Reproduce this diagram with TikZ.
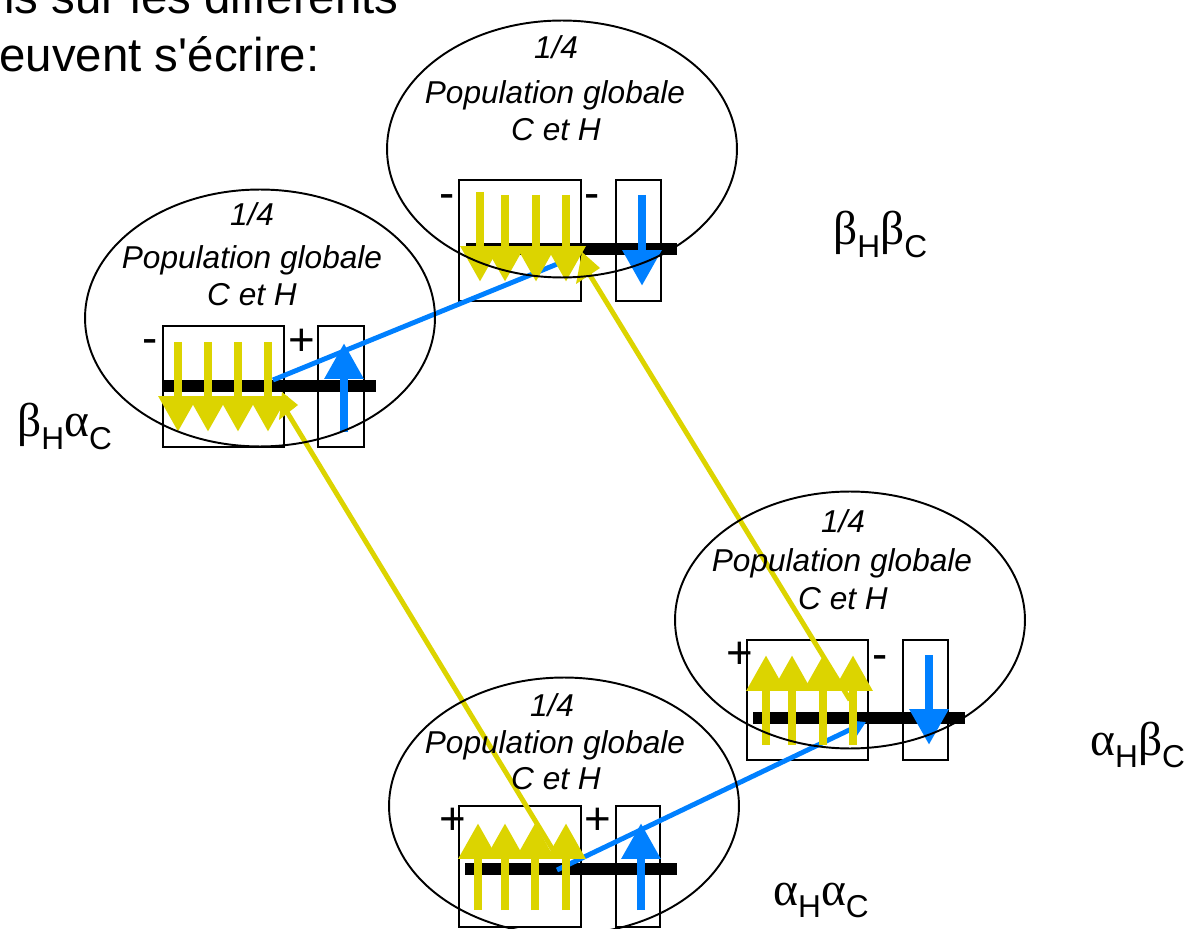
\documentclass[tikz,border=0pt]{standalone}
\usepackage{fontspec}
\setmainfont{Liberation Sans}
\newfontfamily\grk{Liberation Serif}
\newfontfamily\rawsans{Liberation Sans}[Ligatures=TeXOff]
\usetikzlibrary{shapes.geometric,arrows.meta}
\definecolor{ycol}{RGB}{220,212,0}
\definecolor{bcol}{RGB}{0,128,255}
\newcommand\glab[4]{{\grk\fontsize{27}{30}\selectfont #1}\raisebox{-7pt}{\fontsize{18}{20}\selectfont #2}{\grk\fontsize{27}{30}\selectfont #3}\raisebox{-7pt}{\fontsize{18}{20}\selectfont #4}}
\tikzset{
  ell/.style={draw=black, line width=1.1pt, ellipse, minimum width=7cm, minimum height=5.14cm, inner sep=0pt},
  bx/.style={draw=black, line width=1.1pt},
  barline/.style={draw=black, line width=6.8pt},
  yarr/.style={draw=ycol, line width=5.1pt, -{Triangle[width=21pt,length=20.4pt]}},
  barr/.style={draw=bcol, line width=5.1pt, -{Triangle[width=21pt,length=20.4pt]}},
  yconn/.style={draw=ycol, line width=2.8pt},
  bconn/.style={draw=bcol, line width=2.8pt},
  ptxt/.style={font=\fontsize{18}{21}\selectfont\itshape, anchor=base, inner sep=0pt},
  sgn/.style={font=\fontsize{26}{30}\selectfont, anchor=base, inner sep=0pt},
  glb/.style={anchor=base west, inner sep=0pt},
  toptxt/.style={font=\rawsans\fontsize{27}{32}\selectfont, inner sep=0pt}
}
\begin{document}
\begin{tikzpicture}[x=0.02cm,y=-0.02cm]
\useasboundingbox (0,0) rectangle (1198,929);

% bars
\draw[barline] (466,249) -- (677,249);
\draw[barline] (163,386) -- (376,386);
\draw[barline] (753,718) -- (965,718);
\draw[barline] (465,869) -- (677,869);

% boxes
\draw[bx] (459,180) rectangle (581,301);
\draw[bx] (616,180) rectangle (661,301);
\draw[bx] (163,326) rectangle (284,447);
\draw[bx] (318,326) rectangle (364,447);
\draw[bx] (747,640) rectangle (868,760);
\draw[bx] (903,640) rectangle (948,760);
\draw[bx] (459,806) rectangle (581,927);
\draw[bx] (616,806) rectangle (660,927);

% connector end points
\coordinate (bl1) at (273,380);
\coordinate (bt1) at (572,258);
\coordinate (bb1) at (557,870);
\coordinate (br1) at (866,722);
\coordinate (yt1) at (588,272);
\coordinate (yr1) at (850,700);
\coordinate (yl1) at (287,412);
\coordinate (yb1) at (553,850);

% blue connectors
\draw[bconn] (bl1) -- (bt1);
\draw[bconn, -{Triangle[width=9pt,length=8pt]}] (bb1) -- (br1);

% top arrows (down)
\draw[yarr] (480,192) -- (480,282);
\draw[yarr] (505,195) -- (505,282);
\draw[yarr] (536,195) -- (536,282);
\draw[yarr] (566,195) -- (566,282);
\draw[barr] (642,195) -- (642,286);
% left arrows
\draw[yarr] (178,342) -- (178,432);
\draw[yarr] (208,342) -- (208,432);
\draw[yarr] (238,342) -- (238,432);
\draw[yarr] (268,342) -- (268,432);
\draw[barr] (344,432) -- (344,343);
% right arrows
\draw[yarr] (766,745) -- (766,655);
\draw[yarr] (792,745) -- (792,655);
\draw[yarr] (823,745) -- (823,655);
\draw[yarr] (853,745) -- (853,655);
\draw[barr] (929,655) -- (929,745);
% bottom arrows
\draw[yarr] (478,910) -- (478,823);
\draw[yarr] (505,910) -- (505,823);
\draw[yarr] (535,910) -- (535,823);
\draw[yarr] (566,910) -- (566,823);
\draw[barr] (641,910) -- (641,823);

% yellow connectors
\draw[yconn] (yt1) -- (yr1);
\fill[ycol] (582,252) -- (600,268) -- (576,284) -- cycle;
\draw[yconn] (yl1) -- (yb1);
\fill[ycol] (282,392) -- (298,405) -- (279,420) -- cycle;

% ellipses
\node[ell] (e1) at (562,149) {};
\node[ell] (e2) at (260,318) {};
\node[ell] (e3) at (850,620) {};
\node[ell] (e4) at (564,806) {};

% ellipse texts
\node[ptxt] (t1a) at (556,59) {1/4};
\node[ptxt] (t1b) at (555,104) {Population globale};
\node[ptxt] (t1c) at (556,141) {C et H};
\node[ptxt] (t2a) at (252,226) {1/4};
\node[ptxt] (t2b) at (252,269) {Population globale};
\node[ptxt] (t2c) at (252,306) {C et H};
\node[ptxt] (t3a) at (843,533) {1/4};
\node[ptxt] (t3b) at (842,571) {Population globale};
\node[ptxt] (t3c) at (843,609) {C et H};
\node[ptxt] (t4a) at (552,716) {1/4};
\node[ptxt] (t4b) at (555,753) {Population globale};
\node[ptxt] (t4c) at (556,789) {C et H};

% signs
\node[sgn] (s1) at (447,209) {-};
\node[sgn] (s2) at (592,209) {-};
\node[sgn] (s3) at (150,354) {-};
\node[sgn] (s4) at (302,356) {+};
\node[sgn] (s5) at (740,668) {+};
\node[sgn] (s6) at (880,669) {-};
\node[sgn] (s7) at (453,834) {+};
\node[sgn] (s8) at (598,834) {+};

% greek labels
\node[glb] (g1) at (833,245) {\glab{β}{H}{β}{C}};
\node[glb] (g2) at (17,437) {\glab{β}{H}{α}{C}};
\node[glb] (g3) at (1090,755) {\glab{α}{H}{β}{C}};
\node[glb] (g4) at (773,905) {\glab{α}{H}{α}{C}};

% top text
\node[toptxt, anchor=base east] (h1) at (399,14) {is sur les différents};
\node[toptxt, anchor=base west] (h2) at (-1,72) {euvent s'écrire:};
\end{tikzpicture}
\end{document}
